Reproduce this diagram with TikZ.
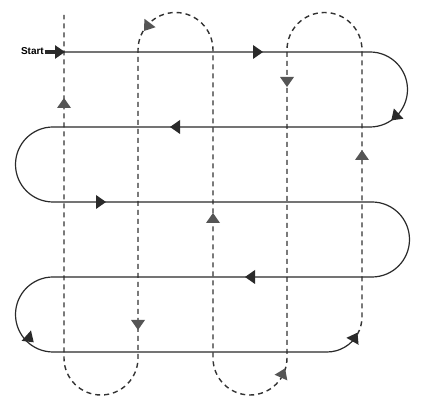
\documentclass[tikz,border=0pt]{standalone}
\usepackage{fontspec}
\setmainfont{Liberation Sans}
\usetikzlibrary{arrows.meta}
\definecolor{solidc}{HTML}{2A2A2A}
\definecolor{dashc}{HTML}{333333}
\definecolor{dtri}{HTML}{555555}
\tikzset{
  solidline/.style={draw=solidc, line width=1.2pt},
  dashline/.style={draw=dashc, line width=1.4pt, dash pattern=on 5pt off 4pt},
  stri/.pic={\fill[solidc] (5,0) -- (-5,7) -- (-5,-7) -- cycle;},
  dtri/.pic={\fill[dtri] (5,0) -- (-5,7) -- (-5,-7) -- cycle;},
}
\begin{document}
\begin{tikzpicture}[x=1pt,y=1pt]
\useasboundingbox (0,0) rectangle (424,411);
\fill[white] (0,0) rectangle (424,411);
% dashed serpentine
\draw[dashline] (357.3,76.5) arc(-30:0:35) -- (362,361) arc(0:180:37.5)
  -- (287,53) arc(0:-180:37) -- (213,361) arc(0:180:37.5)
  -- (138,53) arc(0:-180:37) -- (64,396);
% solid serpentine
\draw[solidline] (64,359) -- (370,359) arc(90:-90:37.5) -- (53,284)
  arc(90:270:37.5) -- (372,209) arc(90:-90:37.5) -- (53,134)
  arc(90:270:37.5) -- (327,59) arc(-90:-30:35);
% start
\node[anchor=east, font=\bfseries\fontsize{10}{11}\selectfont, inner sep=0pt] (start) at (44,360) {Start};
\draw[solidc, line width=3.5pt, -{Triangle[length=10pt,width=13pt]}] (start.east) ++(0.5,-1) coordinate (s0) -- (65,359) coordinate (s1);
% solid arrows
\pic[rotate=0] at (258,359) {stri};
\pic[rotate=-137] at (395,294) {stri};
\pic[rotate=180] at (175,284) {stri};
\pic[rotate=0] at (101,209) {stri};
\pic[rotate=180] at (250,134) {stri};
\pic[rotate=-42] at (30,72) {stri};
\pic[rotate=60] at (355,74) {stri};
% dashed arrows
\pic[rotate=90] at (64,308) {dtri};
\pic[rotate=233] at (147,384) {dtri};
\pic[rotate=270] at (138,86) {dtri};
\pic[rotate=66] at (283,38) {dtri};
\pic[rotate=90] at (213,193) {dtri};
\pic[rotate=270] at (287,329) {dtri};
\pic[rotate=90] at (362,256) {dtri};
\end{tikzpicture}
\end{document}
